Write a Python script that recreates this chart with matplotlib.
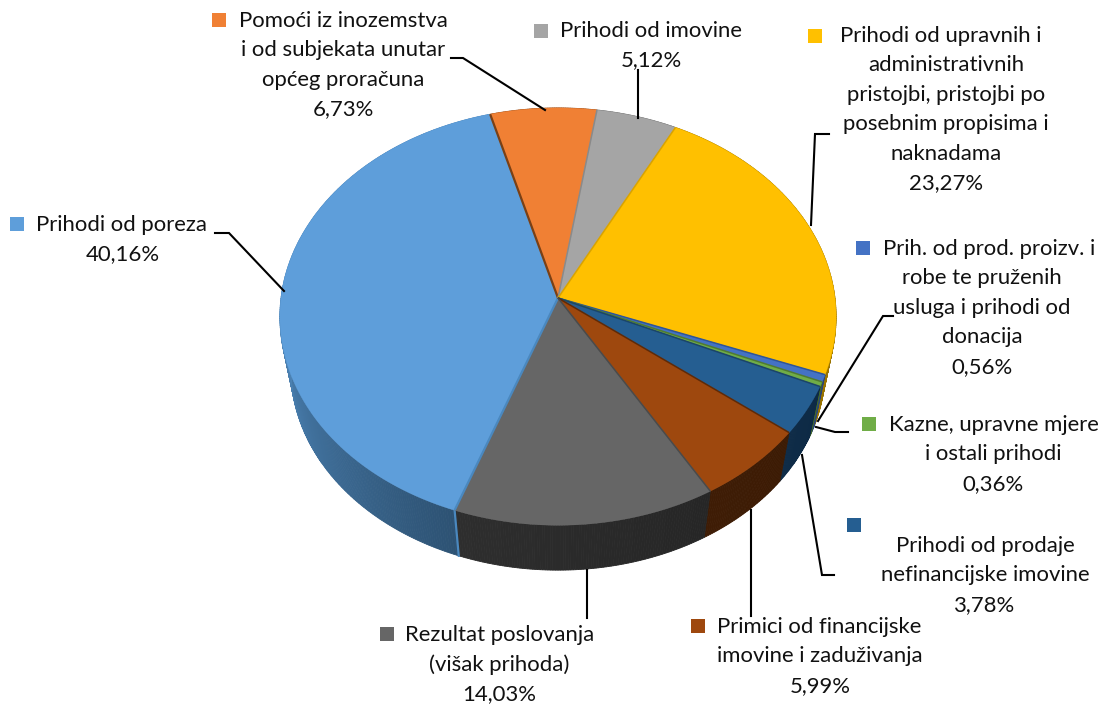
import numpy as np
import matplotlib
matplotlib.use('Agg')
import matplotlib.pyplot as plt
from matplotlib.colors import to_rgb

plt.rcParams['font.family'] = ['Lato', 'DejaVu Sans']

shares = [40.16, 6.73, 5.12, 23.27, 0.56, 0.36, 3.78, 5.99, 14.03]
top_colors = ['#5E9EDA', '#F08034', '#A5A5A5', '#FFC000', '#4472C4',
              '#70AD47', '#255E91', '#9E480E', '#666666']
wall_from = ['#2D5273', '#8A4A1C', '#636363', '#997300', '#29447A',
             '#43682B', '#0D2A45', '#3C1B04', '#262626']
wall_to = ['#5089BD', '#8A4A1C', '#636363', '#997300', '#29447A',
           '#43682B', '#0F2C48', '#3E1C05', '#2E2E2E']
edge_colors = ['#4A88BF', '#7A4015', '#8A8A8A', '#D9A300', '#2F5597',
               '#4F7A33', '#1B4568', '#5E2A08', '#4A4A4A']

# label text, one list per slice
label_lines = [
    ['Prihodi od poreza'],
    ['Pomoći iz inozemstva', 'i od subjekata unutar', 'općeg proračuna'],
    ['Prihodi od imovine'],
    ['Prihodi od upravnih i', 'administrativnih', 'pristojbi, pristojbi po',
     'posebnim propisima i', 'naknadama'],
    ['Prih. od prod. proizv. i', 'robe te pruženih', 'usluga i prihodi od', 'donacija'],
    ['Kazne, upravne mjere', 'i ostali prihodi'],
    ['Prihodi od prodaje', 'nefinancijske imovine'],
    ['Primici od financijske', 'imovine i zaduživanja'],
    ['Rezultat poslovanja', '(višak prihoda)'],
]

# layout: first line centre x, other lines centre x, first line y, key left x, key top y
label_pos = [
    (122, 123, 225, 10, 217),
    (343, 343, 21, 212, 13),
    (651, 651, 31, 534, 24),
    (941, 946, 36, 808, 29),
    (989, 982, 249, 856, 241),
    (994, 993, 425, 862, 417),
    (985, 985, 546, 847, 518),
    (819, 820, 627, 691, 619),
    (500, 499, 635, 380, 627),
]
leaders = [
    [(215, 233), (229, 233), (284, 291)],
    [(451, 58), (463, 58), (545, 110)],
    [(638, 118), (638, 70)],
    [(811, 225), (815, 134), (829, 134)],
    [(818, 421), (883, 316), (893, 316)],
    [(816, 427), (835, 432), (848, 432)],
    [(802, 455), (822, 575), (834, 575)],
    [(751, 510), (751, 616)],
    [(587, 570), (587, 618)],
]

CX, CY = 558, 298
RX, RY = 277, 207
PERSP = 0.089
DEPTH = 54
SHRINK = 0.96
START = 200.0


def ring(theta, bottom=False):
    t = np.radians(theta)
    w = 1 + PERSP * np.cos(t)
    x = RX * np.sin(t) / w
    y = -RY * np.cos(t) / w
    if bottom:
        return CX + SHRINK * x, CY + DEPTH + SHRINK * y
    return CX + x, CY + y


fig = plt.figure(figsize=(11.03, 7.04), dpi=100)
ax = fig.add_axes([0, 0, 1, 1])
ax.set_xlim(0, 1103)
ax.set_ylim(704, 0)
ax.axis('off')

edges = START + np.cumsum([0] + shares) * 3.6

# side walls first, shaded in thin strips
for i in range(len(shares)):
    t0, t1 = edges[i], edges[i + 1]
    steps = max(int((t1 - t0) * 2), 2)
    ts = np.linspace(t0, t1, steps + 1)
    c0 = np.array(to_rgb(wall_from[i]))
    c1 = np.array(to_rgb(wall_to[i]))
    for j in range(steps):
        xa, ya = ring(ts[j:j + 2])
        xb, yb = ring(ts[j:j + 2][::-1], bottom=True)
        f = min(j / steps / 0.5, 1.0) if i == 0 else j / steps
        c = c0 + (c1 - c0) * f
        ax.fill(np.r_[xa, xb], np.r_[ya, yb], color=c, lw=0.6, zorder=2)

# blue slice front cut shows as a thin light strip
xa, ya = ring(np.array([edges[0]]))
xb, yb = ring(np.array([edges[0]]), bottom=True)
ax.plot([xa[0], xb[0]], [ya[0], yb[0]], color='#4A88BF', lw=1.6, zorder=3)

# top faces
for i in range(len(shares)):
    ts = np.linspace(edges[i], edges[i + 1], 120)
    x, y = ring(ts)
    ax.fill(np.r_[CX, x], np.r_[CY, y], color=top_colors[i], lw=0.3, zorder=4)

for i in range(len(shares)):
    x, y = ring(np.array([edges[i]]))
    ax.plot([CX, x[0]], [CY, y[0]], color=edge_colors[i], lw=1.6 if i in (0, 1) else 1.1,
            zorder=5, solid_capstyle='butt')

# leader lines
for pts in leaders:
    px = [p[0] for p in pts]
    py = [p[1] for p in pts]
    ax.plot(px, py, color='black', lw=1.5, zorder=6, solid_joinstyle='miter')

# labels with their colour keys
STEP = 29.4
for i, lines in enumerate(label_lines):
    x1, x2, y0, kx, ky = label_pos[i]
    ax.fill([kx, kx + 14, kx + 14, kx], [ky, ky, ky + 14, ky + 14], color=top_colors[i],
            lw=0, zorder=7)
    pct = f'{shares[i]:.2f}'.replace('.', ',') + '%'
    for n, line in enumerate(lines + [pct]):
        ax.text(x1 if n == 0 else x2, y0 + n * STEP, line, ha='center', va='center',
                fontsize=15.9, color='#111111', zorder=8)

fig.savefig('out.png', dpi=100)
